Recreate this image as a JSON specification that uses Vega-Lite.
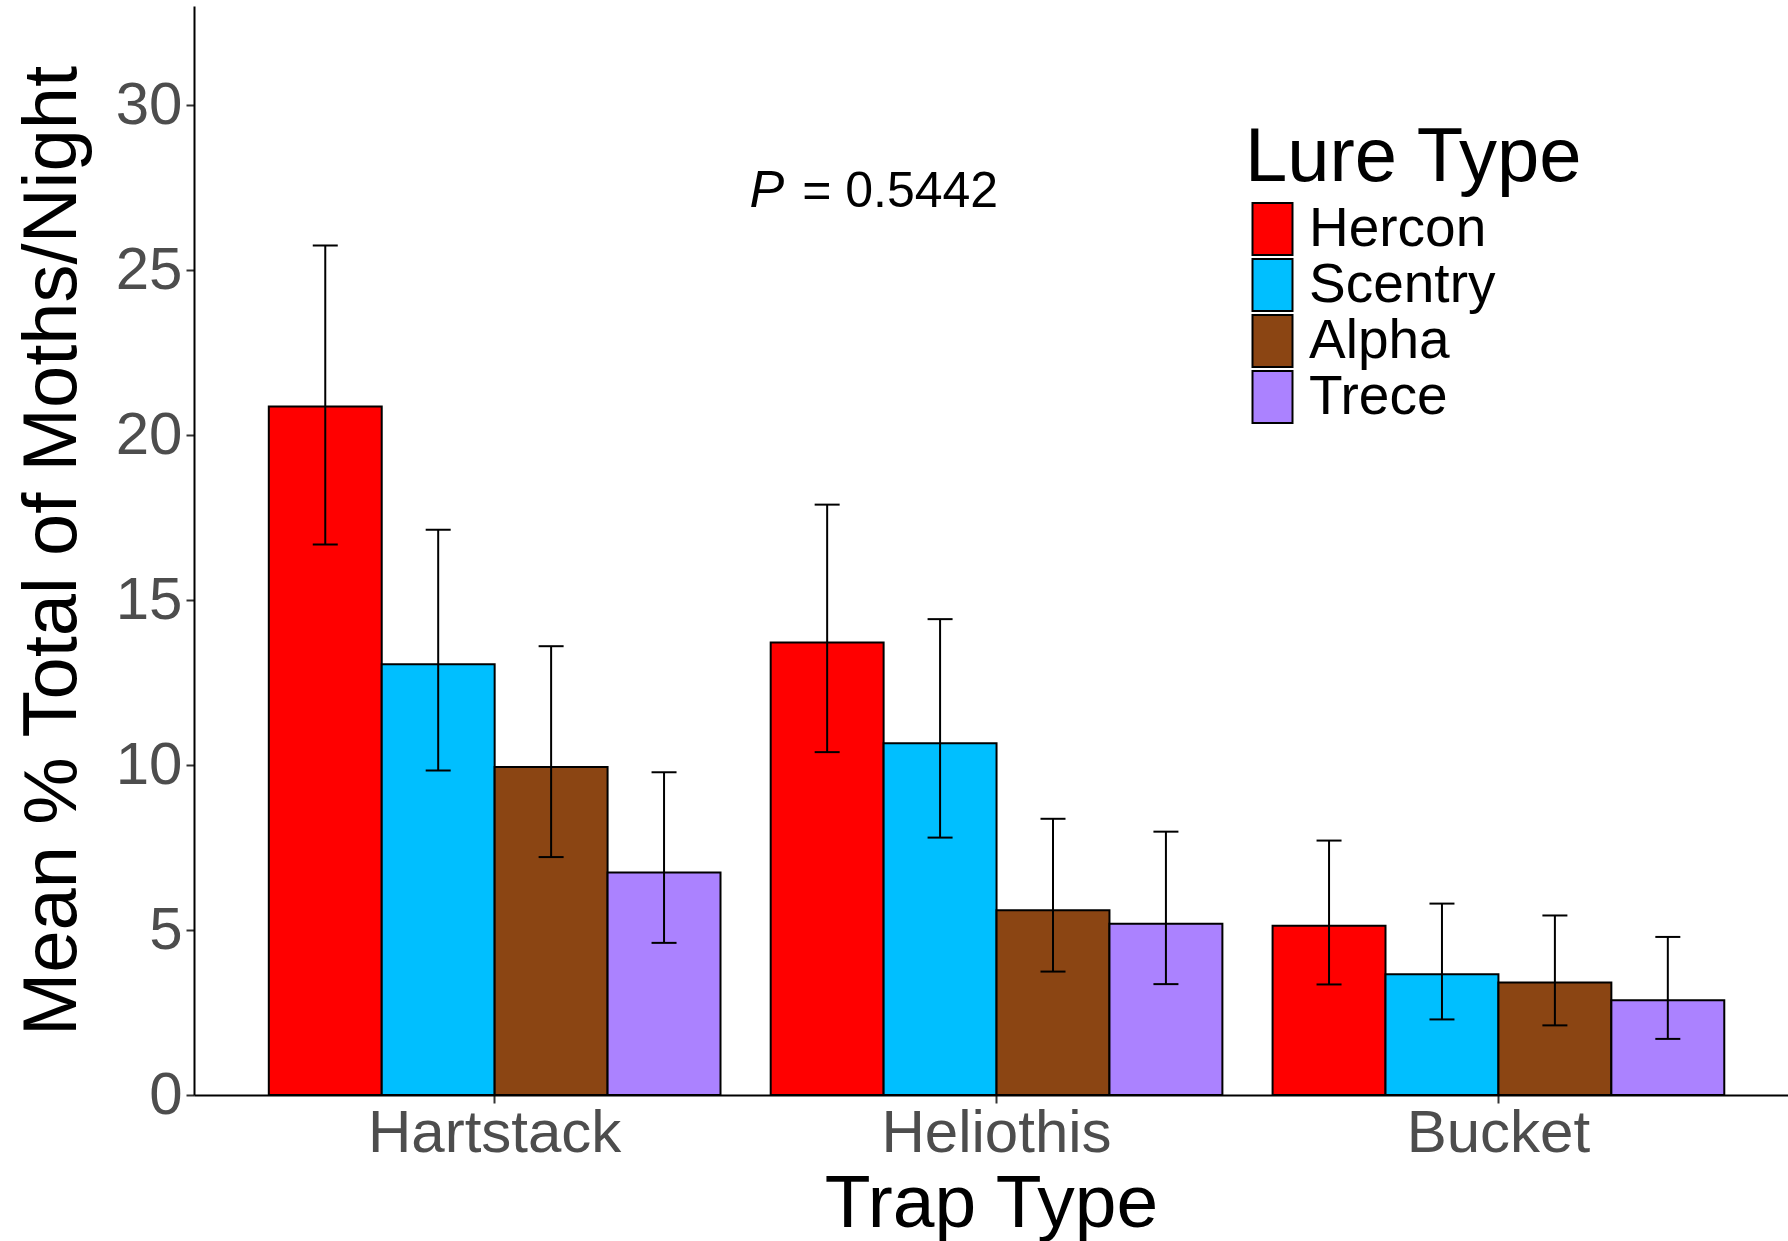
{
  "$schema": "https://vega.github.io/schema/vega-lite/v6.json",
  "width": 1594,
  "height": 1089,
  "autosize": {"type": "none"},
  "padding": {"left": 194, "top": 6, "right": 0, "bottom": 146},
  "background": "white",
  "config": {
    "view": {"stroke": null},
    "font": "Liberation Sans"
  },
  "datasets": {
    "bars": [
      {"trap": "Hartstack", "lure": "Hercon", "mean": 20.86, "lo": 16.68, "hi": 25.74},
      {"trap": "Hartstack", "lure": "Scentry", "mean": 13.05, "lo": 9.83, "hi": 17.13},
      {"trap": "Hartstack", "lure": "Alpha", "mean": 9.94, "lo": 7.21, "hi": 13.6},
      {"trap": "Hartstack", "lure": "Trece", "mean": 6.74, "lo": 4.61, "hi": 9.78},
      {"trap": "Heliothis", "lure": "Hercon", "mean": 13.71, "lo": 10.39, "hi": 17.89},
      {"trap": "Heliothis", "lure": "Scentry", "mean": 10.66, "lo": 7.8, "hi": 14.42},
      {"trap": "Heliothis", "lure": "Alpha", "mean": 5.6, "lo": 3.74, "hi": 8.37},
      {"trap": "Heliothis", "lure": "Trece", "mean": 5.19, "lo": 3.36, "hi": 7.98},
      {"trap": "Bucket", "lure": "Hercon", "mean": 5.13, "lo": 3.35, "hi": 7.71},
      {"trap": "Bucket", "lure": "Scentry", "mean": 3.66, "lo": 2.29, "hi": 5.8},
      {"trap": "Bucket", "lure": "Alpha", "mean": 3.41, "lo": 2.11, "hi": 5.44},
      {"trap": "Bucket", "lure": "Trece", "mean": 2.87, "lo": 1.7, "hi": 4.79}
    ]
  },
  "layer": [
    {
      "data": {"name": "bars"},
      "mark": {"type": "bar", "stroke": "black", "strokeWidth": 2, "opacity": 1},
      "encoding": {
        "x": {
          "field": "trap", "type": "nominal",
          "sort": ["Hartstack", "Heliothis", "Bucket"],
          "scale": {"paddingInner": 0.1, "paddingOuter": 0.138, "align": 0.54},
          "title": "Trap Type",
          "axis": {
            "labelAngle": 0,
            "labelFontSize": 60,
            "labelLimit": 0,
            "labelColor": "#4D4D4D",
            "labelPadding": 1,
            "tickSize": 8,
            "tickWidth": 2,
            "tickColor": "#333333",
            "domainColor": "black",
            "domainWidth": 2,
            "titleFontSize": 75,
            "titleLimit": 0,
            "titleFontWeight": "normal",
            "titleColor": "black",
            "titlePadding": 4
          }
        },
        "xOffset": {
          "field": "lure", "type": "nominal",
          "sort": ["Hercon", "Scentry", "Alpha", "Trece"],
          "scale": {"paddingInner": 0, "paddingOuter": 0}
        },
        "y": {
          "field": "mean", "type": "quantitative",
          "scale": {"domain": [0, 33], "nice": false, "zero": true},
          "title": "Mean % Total of Moths/Night",
          "axis": {
            "values": [0, 5, 10, 15, 20, 25, 30],
            "grid": false,
            "labelFontSize": 60,
            "labelLimit": 0,
            "labelColor": "#4D4D4D",
            "labelPadding": 4,
            "tickSize": 8,
            "tickWidth": 2,
            "tickColor": "#333333",
            "domainColor": "black",
            "domainWidth": 2,
            "titleFontSize": 76,
            "titleLimit": 0,
            "titleFontWeight": "normal",
            "titleColor": "black",
            "titlePadding": 24
          }
        },
        "color": {
          "field": "lure", "type": "nominal",
          "scale": {
            "domain": ["Hercon", "Scentry", "Alpha", "Trece"],
            "range": ["#FF0000", "#00BFFF", "#8B4513", "#AB82FF"]
          },
          "legend": {
            "title": "Lure Type",
            "orient": "none",
            "legendX": 1051,
            "legendY": 115,
            "titleFontSize": 76,
            "titleLimit": 0,
            "titleFontWeight": "normal",
            "titleColor": "black",
            "titlePadding": 4,
            "labelFontSize": 55,
            "labelLimit": 0,
            "labelColor": "black",
            "labelOffset": 9,
            "symbolType": "M-1,-1.3H1V1.3H-1Z",
            "symbolSize": 1600,
            "symbolStrokeColor": "black",
            "symbolStrokeWidth": 2,
            "symbolOpacity": 1,
            "clipHeight": 56,
            "rowPadding": 0
          }
        }
      }
    },
    {
      "data": {"name": "bars"},
      "mark": {"type": "rule", "color": "black", "strokeWidth": 2},
      "encoding": {
        "x": {"field": "trap", "type": "nominal", "sort": ["Hartstack", "Heliothis", "Bucket"]},
        "xOffset": {"field": "lure", "type": "nominal", "sort": ["Hercon", "Scentry", "Alpha", "Trece"]},
        "y": {"field": "lo", "type": "quantitative"},
        "y2": {"field": "hi"}
      }
    },
    {
      "data": {"name": "bars"},
      "mark": {"type": "tick", "color": "black", "size": 25, "thickness": 2, "opacity": 1},
      "encoding": {
        "x": {"field": "trap", "type": "nominal", "sort": ["Hartstack", "Heliothis", "Bucket"]},
        "xOffset": {"field": "lure", "type": "nominal", "sort": ["Hercon", "Scentry", "Alpha", "Trece"]},
        "y": {"field": "lo", "type": "quantitative"}
      }
    },
    {
      "data": {"name": "bars"},
      "mark": {"type": "tick", "color": "black", "size": 25, "thickness": 2, "opacity": 1},
      "encoding": {
        "x": {"field": "trap", "type": "nominal", "sort": ["Hartstack", "Heliothis", "Bucket"]},
        "xOffset": {"field": "lure", "type": "nominal", "sort": ["Hercon", "Scentry", "Alpha", "Trece"]},
        "y": {"field": "hi", "type": "quantitative"}
      }
    },
    {
      "data": {"values": [{"trap": "Heliothis", "lure": "Hercon", "y": 26.9, "label": "P"}]},
      "mark": {"type": "text", "fontSize": 52, "fontStyle": "italic", "align": "right", "baseline": "alphabetic", "dx": -43, "color": "black"},
      "encoding": {
        "x": {"field": "trap", "type": "nominal", "sort": ["Hartstack", "Heliothis", "Bucket"]},
        "xOffset": {"field": "lure", "type": "nominal", "sort": ["Hercon", "Scentry", "Alpha", "Trece"]},
        "y": {"field": "y", "type": "quantitative"},
        "text": {"field": "label"}
      }
    },
    {
      "data": {"values": [{"trap": "Heliothis", "lure": "Hercon", "y": 26.9, "label": "= 0.5442"}]},
      "mark": {"type": "text", "fontSize": 50, "align": "left", "baseline": "alphabetic", "dx": -25, "color": "black"},
      "encoding": {
        "x": {"field": "trap", "type": "nominal", "sort": ["Hartstack", "Heliothis", "Bucket"]},
        "xOffset": {"field": "lure", "type": "nominal", "sort": ["Hercon", "Scentry", "Alpha", "Trece"]},
        "y": {"field": "y", "type": "quantitative"},
        "text": {"field": "label"}
      }
    }
  ]
}
